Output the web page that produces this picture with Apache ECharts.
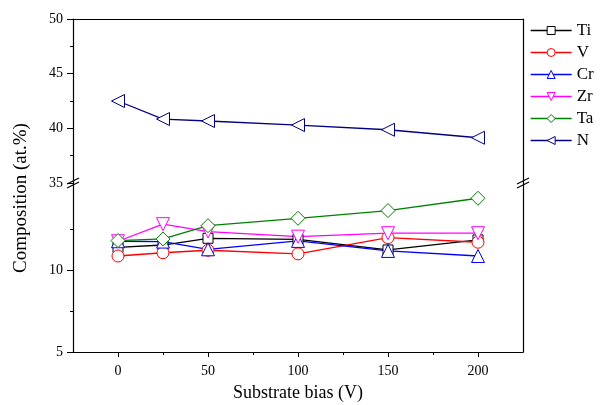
<!DOCTYPE html>
<html>
<head>
    <meta charset="utf-8">
    <title>Composition vs substrate bias</title>
    <script src="https://cdn.jsdelivr.net/npm/echarts@6/dist/echarts.min.js"></script>
</head>
<body style="margin:0">
    <div id="chart" style="width: 600px;height: 405px;"></div>
</body>

<script>
    // substrate bias (V)
    var bias = [0, 25, 50, 100, 150, 200];
    // composition (at.%)
    var ti = [11.38, 11.52, 11.93, 11.87, 11.22, 11.83];
    var v  = [10.85, 11.05, 11.20, 10.98, 11.97, 11.69];
    var cr = [11.75, 11.73, 11.26, 11.77, 11.16, 10.85];
    var zr = [11.75, 12.79, 12.34, 12.03, 12.24, 12.24];
    var ta = [11.79, 11.89, 12.70, 13.15, 13.62, 14.37];
    var n  = [42.5, 40.85, 40.67, 40.30, 39.87, 39.14];

    var xTicks = [0, 50, 100, 150, 200];
    var xMinor = [25, 75, 125, 175];
    var yLowTicks = [5, 10];
    var yLowMinor = [7.5, 12.5];

    var font = 'Liberation Serif';

    function pairs(arr) {
        return bias.map(function (b, i) { return [b, arr[i]]; });
    }

    function line(name, arr, color, symbol, size, rotate, high) {
        return {
            name: name,
            type: 'line',
            xAxisIndex: high ? 0 : 1,
            yAxisIndex: high ? 0 : 1,
            data: pairs(arr),
            symbol: symbol,
            symbolSize: size,
            symbolRotate: rotate || 0,
            color: color,
            lineStyle: { color: color, width: 1.3 },
            itemStyle: { color: '#fff', borderColor: color, borderWidth: 1 },
            emphasis: { disabled: true },
            animation: false
        };
    }

    // little "//" marks for the axis break
    function breakMark(x, y) {
        var kids = [-2, 2].map(function (d) {
            return {
                type: 'line',
                shape: { x1: x - 6, y1: y + d + 3, x2: x + 6, y2: y + d - 3 },
                style: { stroke: '#000', lineWidth: 1.2 }
            };
        });
        return { type: 'group', children: kids };
    }

    var thin = { show: true, onZero: false, lineStyle: { color: '#000', width: 1.2 } };

    var option = {
        backgroundColor: '#fff',
        textStyle: { fontFamily: font },
        grid: [
            { left: 73, right: 77, top: 19, height: 164 },
            { left: 73, right: 77, top: 183, height: 169 }
        ],
        xAxis: [
            { type: 'value', gridIndex: 0, min: -25, max: 225, position: 'top',
              axisLine: thin, axisTick: { show: false }, axisLabel: { show: false }, splitLine: { show: false } },
            { type: 'value', gridIndex: 1, min: -25, max: 225, position: 'bottom',
              name: 'Substrate bias (V)', nameLocation: 'middle', nameGap: 32,
              nameTextStyle: { fontFamily: font, fontSize: 18, color: '#000' },
              axisLine: thin,
              axisTick: { show: true, length: 5, customValues: xTicks, lineStyle: { color: '#000' } },
              axisLabel: { show: true, customValues: xTicks, fontSize: 14, color: '#000', fontFamily: font, margin: 12 },
              splitLine: { show: false } },
            { type: 'value', gridIndex: 1, min: -25, max: 225, position: 'bottom',
              axisLine: { show: false, onZero: false },
              axisTick: { show: true, length: 3, customValues: xMinor, lineStyle: { color: '#000' } },
              axisLabel: { show: false }, splitLine: { show: false } }
        ],
        yAxis: [
            { type: 'value', gridIndex: 0, min: 35, max: 50, interval: 5, position: 'left',
              axisLine: thin,
              axisTick: { show: true, length: 6, lineStyle: { color: '#000' } },
              minorTick: { show: true, splitNumber: 2, length: 3, lineStyle: { color: '#000' } },
              axisLabel: { fontSize: 14, color: '#000', fontFamily: font, margin: 10 },
              splitLine: { show: false } },
            { type: 'value', gridIndex: 1, min: 5, max: 15.3, position: 'left',
              axisLine: thin,
              axisTick: { show: true, length: 6, customValues: yLowTicks, lineStyle: { color: '#000' } },
              axisLabel: { customValues: yLowTicks, fontSize: 14, color: '#000', fontFamily: font, margin: 10 },
              splitLine: { show: false } },
            { type: 'value', gridIndex: 1, min: 5, max: 15.3, position: 'left',
              axisLine: { show: false, onZero: false },
              axisTick: { show: true, length: 3, customValues: yLowMinor, lineStyle: { color: '#000' } },
              axisLabel: { show: false }, splitLine: { show: false } },
            { type: 'value', gridIndex: 0, min: 35, max: 50, position: 'right',
              axisLine: thin, axisTick: { show: false }, axisLabel: { show: false }, splitLine: { show: false } },
            { type: 'value', gridIndex: 1, min: 5, max: 15.3, position: 'right',
              axisLine: thin, axisTick: { show: false }, axisLabel: { show: false }, splitLine: { show: false } }
        ],
        legend: {
            orient: 'vertical',
            left: 525,
            top: 17,
            itemWidth: 41,
            itemHeight: 10,
            itemGap: 5,
            itemStyle: { borderWidth: 1 },
            lineStyle: { width: 1.3 },
            textStyle: { fontFamily: font, fontSize: 17, color: '#000' },
            data: ['Ti', 'V', 'Cr', 'Zr', 'Ta', 'N']
        },
        graphic: [
            breakMark(73, 183),
            breakMark(523, 183),
            {
                type: 'text',
                x: 21, y: 198,
                rotation: Math.PI / 2,
                style: { text: 'Composition (at.%)', fontFamily: font, fontSize: 19, fill: '#000',
                         align: 'center', verticalAlign: 'middle' }
            }
        ],
        series: [
            line('Ti', ti, '#000000', 'rect', 10),
            line('V', v, '#ff0000', 'circle', 12),
            line('Cr', cr, '#0000ff', 'triangle', 13),
            line('Zr', zr, '#ff00ff', 'triangle', 13, 180),
            line('Ta', ta, '#008000', 'diamond', 14),
            line('N', n, '#000080', 'triangle', 13, 90, true)
        ]
    };

    var myChart = echarts.init(document.getElementById('chart'));
    myChart.setOption(option);
</script>
</html>
